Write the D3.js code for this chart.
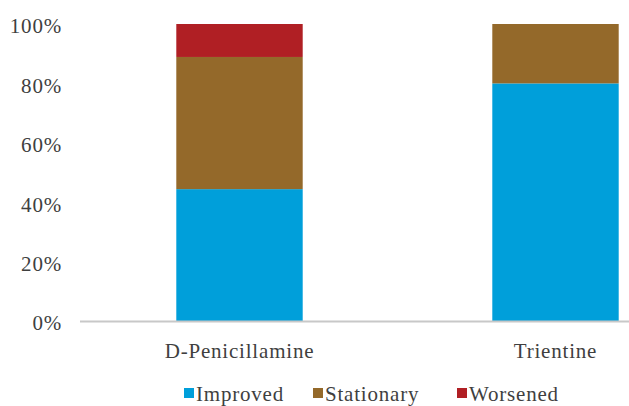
<!DOCTYPE html>
<html>
<head>
<meta charset="utf-8">
<script src="https://cdn.jsdelivr.net/npm/d3@7"></script>
<style>
  html, body { margin: 0; padding: 0; background: #fff; }
  svg { display: block; }
</style>
</head>
<body>
<svg id="chart" width="629" height="406"></svg>
<script>
const categories = ["D-Penicillamine", "Trientine"];
const seriesNames = ["Improved", "Stationary", "Worsened"];
const improved = [44.4, 80];
const stationary = [44.5, 20];
const worsened = [11.1, 0];
const yTicks = [0, 20, 40, 60, 80, 100];
const colors = ["#009fda", "#94692a", "#b01f24"];

const FONT = '"Liberation Serif"';
const FS = "21px";
const LS = "0.8px";
const TXT = "#3f3f3f";
const svg = d3.select("#chart");
const W = 629, H = 406;

const x = d3.scaleBand().domain(categories).range([81.5, 713.5]).paddingInner(0.6).paddingOuter(0.3);
const y = d3.scaleLinear().domain([0, 100]).range([321, 24]);

const rows = categories.map((c, i) => ({ cat: c, Improved: improved[i], Stationary: stationary[i], Worsened: worsened[i] }));
const stack = d3.stack().keys(seriesNames)(rows);
const color = d3.scaleOrdinal().domain(seriesNames).range(colors);

svg.append("g").selectAll("g").data(stack).join("g")
  .attr("fill", d => color(d.key))
  .selectAll("rect").data(d => d).join("rect")
  .attr("x", d => x(d.data.cat))
  .attr("width", x.bandwidth())
  .attr("y", d => y(d[1]))
  .attr("height", d => Math.max(0, y(d[0]) - y(d[1])));

// x axis baseline
svg.append("line")
  .attr("x1", 80).attr("x2", W)
  .attr("y1", y(0) + 0.5).attr("y2", y(0) + 0.5)
  .attr("stroke", "#c8c8c8").attr("stroke-width", 2);

// y axis labels
const yAxis = d3.axisLeft(y).tickValues(yTicks).tickFormat(d => d + "%").tickSize(0).tickPadding(0);
const gy = svg.append("g").attr("transform", "translate(62,0)").call(yAxis);
gy.attr("font-family", FONT).attr("font-size", 21);
gy.select(".domain").remove();
gy.selectAll("text").style("font-family", FONT).style("font-size", FS).style("letter-spacing", LS)
  .attr("fill", TXT).attr("dy", "0.42em");

// x axis labels
const xAxis = d3.axisBottom(x).tickSize(0).tickPadding(0);
const gx = svg.append("g").attr("transform", "translate(0,358)").call(xAxis);
gx.attr("font-family", FONT).attr("font-size", 21);
gx.select(".domain").remove();
gx.selectAll("text").style("font-family", FONT).style("font-size", FS).style("letter-spacing", LS)
  .attr("fill", TXT).attr("dy", "0").attr("y", 0);

// legend
const legendX = [184, 313, 457];
const leg = svg.append("g");
seriesNames.forEach((s, i) => {
  leg.append("rect").attr("x", legendX[i]).attr("y", 388).attr("width", 10).attr("height", 10).attr("fill", colors[i]);
  leg.append("text").attr("x", legendX[i] + 12).attr("y", 401).text(s)
    .style("font-family", FONT).style("font-size", FS).style("letter-spacing", LS).attr("fill", TXT);
});
</script>
</body>
</html>
